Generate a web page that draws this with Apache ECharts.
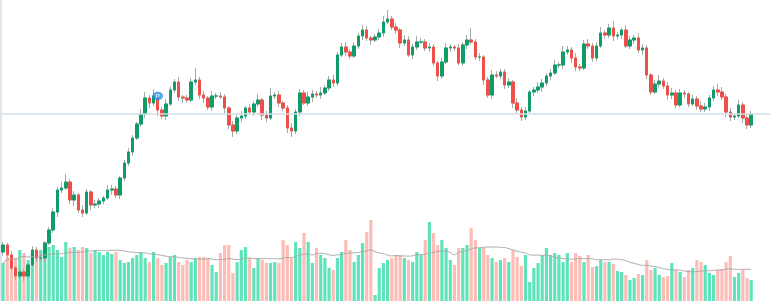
<!DOCTYPE html>
<html>
<head>
<meta charset="utf-8">
<script src="https://cdn.jsdelivr.net/npm/echarts@6/dist/echarts.min.js"></script>
<style>
html,body{margin:0;padding:0;background:#fff;}
#chart{width:770px;height:301px;}
</style>
</head>
<body>
<div id="chart"></div>
<script>
// ---- data ----
const firstOpen = 49;
const closes = [
 56,46,33,25,29,25,36,51,43,43,
 58,71,89,111,113,119,101,106,91,88,
 109,96,97,100,103,111,112,106,123,138,
 149,163,177,187,203,198,205,191,185,197,
 211,219,204,203,201,219,221,206,203,194,
 205,205,204,193,176,170,183,185,193,189,
 197,201,186,183,205,206,198,193,173,170,
 189,208,198,204,207,206,208,213,221,218,
 246,254,249,245,255,265,271,263,261,264,
 268,279,282,274,271,258,261,246,254,259,
 259,253,254,238,225,239,253,254,253,238,
 256,261,259,244,244,221,206,226,225,229,
 216,219,198,191,184,190,209,211,214,218,
 225,228,236,236,249,251,243,234,233,257,
 255,243,255,268,266,273,265,266,271,255,
 261,263,251,253,226,209,217,220,215,206,
 208,196,208,207,197,202,195,192,194,203,
 211,209,204,189,184,185,196,183,176,187
];
const wickUp = [
 3,2,4,2,5,3,2,4,3,5, 2,3,4,3,6,8,3,4,2,5, 3,2,4,3,2,5,4,3,2,3,
 4,3,2,5,6,3,7,4,3,5, 4,3,5,2,3,4,12,3,4,2, 5,3,4,3,2,4,3,5,2,4,
 3,6,2,4,8,3,4,2,3,5, 3,4,3,5,4,3,6,3,4,5, 3,4,5,3,4,3,5,4,2,3,
 4,6,9,3,4,2,5,4,3,6, 4,3,4,3,2,4,5,3,2,4, 3,5,12,3,4,2,3,5,4,3,
 3,4,2,5,3,4,2,3,5,4, 3,4,5,3,6,4,3,5,3,4, 5,3,4,6,3,4,7,3,2,5,
 4,3,5,4,3,2,4,6,3,4, 5,3,4,3,2,4,3,5,4,3, 4,6,5,3,4,2,5,3,4,3
];
const wickDn = [
 4,3,2,4,3,5,3,2,4,3, 4,2,3,5,3,2,4,6,3,4, 2,5,3,4,3,2,5,3,4,3,
 3,4,2,3,4,5,3,6,3,4, 2,3,4,5,3,2,3,4,5,3, 4,3,2,5,4,6,3,4,3,2,
 4,3,5,4,2,3,4,3,5,6, 3,4,2,3,5,3,4,2,3,4, 3,2,4,3,2,3,4,3,5,2,
 3,4,2,3,4,5,3,2,4,3, 2,3,4,3,5,3,2,4,3,2, 3,4,2,3,4,5,3,4,2,3,
 4,3,5,3,4,3,2,4,3,5, 3,4,2,3,4,3,5,4,3,2, 3,4,3,2,4,3,5,3,4,2,
 3,4,3,5,4,3,2,4,3,5, 4,3,2,4,3,2,4,3,3,4, 3,4,3,5,4,3,2,5,4,3
];
const volumes = [
 38,44,43,43,51,48,41,48,44,51,
 53,54,56,51,44,59,53,54,51,54,
 53,48,51,49,46,49,47,49,41,38,
 39,43,46,49,43,39,49,43,36,38,
 44,46,39,36,41,39,43,44,44,43,
 36,29,48,56,56,28,39,51,54,43,
 33,43,41,38,38,39,38,61,56,43,
 59,53,68,59,38,53,46,43,33,31,
 43,49,61,51,39,46,58,69,81,6,
 33,38,41,43,46,46,43,41,39,49,
 46,61,79,68,56,61,53,41,36,53,
 53,56,73,61,53,53,46,43,39,41,
 43,39,51,44,35,46,19,33,38,46,
 53,46,48,46,39,48,39,48,45,39,
 46,34,35,41,39,39,37,30,29,26,
 21,23,27,26,41,31,33,26,24,25,
 38,31,29,24,31,33,41,39,36,28,
 26,31,32,39,45,24,28,31,23,21
];
const categories = Array.from({length: 184}, (_, i) => String(i + 1));
const priceLine = 187;
const markerIndex = 37;
const markerValue = 205;
const maPeriod = 20;

// ---- build ----
const UP = '#0e9d66', DOWN = '#ef4f4b', WICK = '#a3aca8';
const VUP = '#5fe3ba', VDOWN = '#fdbcb5';
const wickData = [], bodyData = [], volData = [], maData = [];
for (let i = 0; i < closes.length; i++) {
  const o = i === 0 ? firstOpen : closes[i - 1];
  const c = closes[i];
  const hi = Math.max(o, c) + wickUp[i];
  const lo = Math.min(o, c) - wickDn[i];
  wickData.push([o, c, lo, hi]);
  bodyData.push([o, c, Math.min(o, c), Math.max(o, c)]);
  volData.push({value: volumes[i], itemStyle: {color: c >= o ? VUP : VDOWN}});
  let s = 0, n = 0;
  for (let k = Math.max(0, i - maPeriod + 1); k <= i; k++) { s += volumes[k]; n++; }
  maData.push(+(s / n).toFixed(2));
}

const chart = echarts.init(document.getElementById('chart'), null, {renderer: 'canvas'});
chart.setOption({
  animation: false,
  backgroundColor: '#ffffff',
  grid: [{left: 1, right: 0, top: 0, bottom: 0}],
  xAxis: [{
    type: 'category', data: categories, boundaryGap: true,
    axisLine: {show: false}, axisTick: {show: false}, axisLabel: {show: false}, splitLine: {show: false}
  }],
  yAxis: [
    {type: 'value', min: 0, max: 301, position: 'left',
     axisLine: {show: true, lineStyle: {color: '#e1e4e8', width: 2}},
     axisTick: {show: false}, axisLabel: {show: false}, splitLine: {show: false}},
    {type: 'value', min: 0, max: 301, position: 'right',
     axisLine: {show: false}, axisTick: {show: false}, axisLabel: {show: false}, splitLine: {show: false}}
  ],
  series: [
    {type: 'bar', yAxisIndex: 1, data: volData, barWidth: '76%', silent: true},
    {type: 'line', yAxisIndex: 1, data: maData, smooth: true, showSymbol: false,
     lineStyle: {color: '#a9a9a9', width: 1}, silent: true},
    {type: 'candlestick', yAxisIndex: 0, data: wickData, barWidth: 3,
     itemStyle: {color: WICK, color0: WICK, borderColor: WICK, borderColor0: WICK, borderWidth: 1},
     markLine: {silent: true, symbol: 'none', label: {show: false},
       lineStyle: {color: '#d2dee6', width: 1.5, type: 'solid'},
       data: [{yAxis: priceLine}]}},
    {type: 'candlestick', yAxisIndex: 0, data: bodyData, barWidth: 3,
     itemStyle: {color: UP, color0: DOWN, borderColor: UP, borderColor0: DOWN, borderWidth: 1}},
    {type: 'scatter', yAxisIndex: 0, data: [[markerIndex, markerValue]],
     symbol: 'circle', symbolSize: [10, 8],
     itemStyle: {color: '#2196f3', borderColor: '#1a7fd4', borderWidth: 0.5},
     label: {show: true, formatter: 'P', color: '#fff', fontSize: 6, fontWeight: 'bold', position: 'inside'}}
  ]
});
</script>
</body>
</html>
